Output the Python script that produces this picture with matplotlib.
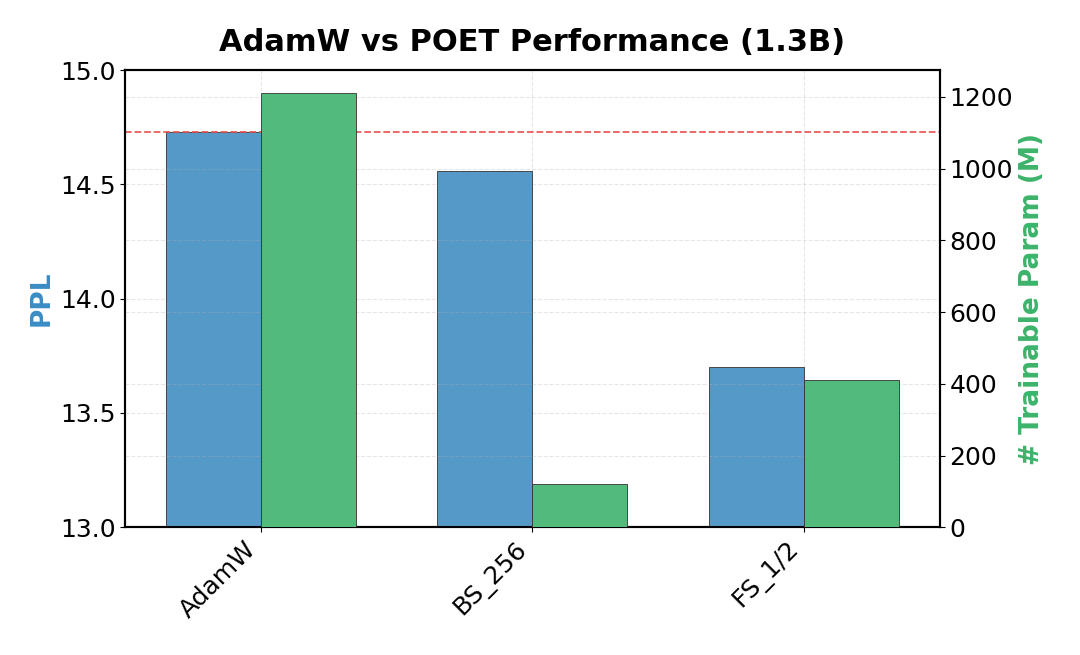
import matplotlib.pyplot as plt
import numpy as np

methods = ['AdamW', 'BS_256', 'FS_1/2']
ppl = [14.73, 14.56, 13.70]
params = [1210, 120, 410]
baseline_ppl = 14.73
ppl_ticks = [13.0, 13.5, 14.0, 14.5, 15.0]

blue = '#5599c8'
green = '#52bb7b'

fig, ax = plt.subplots(figsize=(10.8, 6.55), dpi=100)
ax2 = ax.twinx()
x = np.arange(len(methods))
w = 0.35

ax.bar(x - w / 2, ppl, w, color=blue, edgecolor='#333333', linewidth=0.6, zorder=3)
ax2.bar(x + w / 2, params, w, color=green, edgecolor='#333333', linewidth=0.6, zorder=3)
ax.axhline(baseline_ppl, color='#e84a4a', linestyle='--', linewidth=1.3, alpha=0.9, zorder=4)

ax.set_ylim(13, 15)
ax.set_yticks(ppl_ticks)
ax.set_yticklabels([f'{t:.1f}' for t in ppl_ticks])
ax2.set_ylim(0, 1275)
ax.set_xlim(-0.5, 2.5)
ax.set_xticks(x)
ax.set_xticklabels(methods, rotation=45, ha='right', fontsize=18)
ax.tick_params(axis='y', labelsize=18)
ax2.tick_params(axis='y', labelsize=18)
ax.set_ylabel('PPL', color='#3a8cc4', fontsize=19, fontweight='bold')
ax2.set_ylabel('# Trainable Param (M)', color='#3cb36a', fontsize=19, fontweight='bold')
ax.set_title('AdamW vs POET Performance (1.3B)', fontsize=22, fontweight='bold', pad=14)
ax.grid(True, linestyle='--', alpha=0.3, zorder=0)
ax2.grid(True, linestyle='--', alpha=0.3, zorder=0)
for a in (ax, ax2):
    for s in a.spines.values():
        s.set_linewidth(1.5)

fig.subplots_adjust(left=0.116, right=0.87, top=0.893, bottom=0.195)
fig.savefig('out.png', dpi=100)
